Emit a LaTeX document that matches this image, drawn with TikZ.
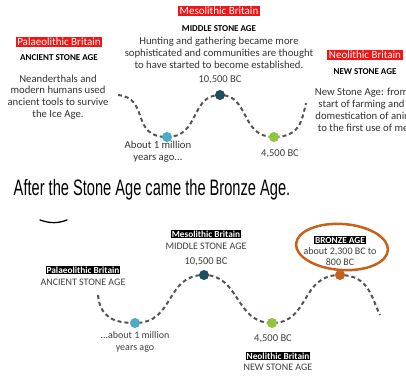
\documentclass[tikz,border=0pt]{standalone}
\usepackage{fontspec}
\setmainfont{Carlito}
\newfontfamily\handfont{Liberation Sans}
\usetikzlibrary{positioning}
\definecolor{tagred}{RGB}{240,22,22}
\definecolor{oldblue}{RGB}{75,172,198}
\definecolor{midteal}{RGB}{30,78,95}
\definecolor{newgreen}{RGB}{141,198,63}
\definecolor{bronze}{RGB}{198,98,30}
\definecolor{trailgrey}{RGB}{85,85,85}
\tikzset{
  redtag/.style={fill=tagred,text=white,inner sep=1.5pt,font=\fontsize{11}{12}\selectfont},
  blacktag/.style={fill=black,text=white,inner sep=1pt,font=\bfseries\fontsize{9.3}{10}\selectfont},
  agetitle/.style={font=\bfseries\fontsize{9}{10}\selectfont},
  blurb/.style={align=center,text=black!80,inner sep=0pt,font=\fontsize{10.7}{11.8}\selectfont},
  greytext/.style={align=center,text=black!75,inner sep=0pt,font=\fontsize{10}{11.5}\selectfont},
  yeartext/.style={align=center,text=black!75,inner sep=0pt,font=\fontsize{10.5}{12}\selectfont},
  dot/.style={circle,inner sep=0pt,minimum size=9pt},
  trail/.style={trailgrey,line width=2pt,dash pattern=on 4pt off 3pt,line cap=butt}
}
\begin{document}
\begin{tikzpicture}[line cap=round,line join=round,x=1pt,y=-1pt]
\useasboundingbox (0,0) rectangle (406,375);
\clip (0,0) rectangle (406,375);
\fill[white] (0,0) rectangle (406,375);

% upper timeline
\coordinate (topstart) at (118,95);
\coordinate (topend) at (306,103);
\node[dot,fill=oldblue] (topold) at (167,137) {};
\node[dot,fill=midteal] (topmid) at (220,95) {};
\node[dot,fill=newgreen] (topnew) at (274,137) {};
\draw[trail] (topstart) .. controls (150,98) and (130,137) .. (topold.center)
  .. controls (200,137) and (190,95) .. (topmid.center)
  .. controls (250,95) and (240,137) .. (topnew.center)
  .. controls (300,137) and (302,120) .. (topend);
\fill[oldblue] (topold) circle (5);
\fill[midteal] (topmid) circle (5);
\fill[newgreen] (topnew) circle (5);

\node[redtag] (mesoT) at (219,11) {Mesolithic Britain};
\node[agetitle] (mesoAgeT) at (219,29) {MIDDLE STONE AGE};
\node[blurb] (mesoTxtT) at (219,53) {Hunting and gathering became more\\sophisticated and communities are thought\\to have started to become established.};
\node[yeartext] (midyearT) at (220,80) {10,500 BC};

\node[redtag] (palaeoT) at (59,42) {Palaeolithic Britain};
\node[agetitle] (palaeoAgeT) at (59,58) {ANCIENT STONE AGE};
\node[blurb] (palaeoTxtT) at (58,97) {Neanderthals and\\modern humans used\\ancient tools to survive\\the Ice Age.};
\node[blurb] (oldyearT) at (158,152) {About 1 million\\years ago...};

\node[redtag] (neoT) at (365,55) {Neolithic Britain};
\node[agetitle] (neoAgeT) at (365,72) {NEW STONE AGE};
\node[blurb] (neoTxtT) at (370,110) {New Stone Age: from the\\start of farming and the\\domestication of animals\\to the first use of metal.};
\node[yeartext] (newyearT) at (280,154) {4,500 BC};

% the sentence
\node[inner sep=0pt] (after) at (152,190) {\handfont\fontsize{15.4}{16}\selectfont\scalebox{0.95}[1.45]{After the Stone Age came the Bronze Age.}};
\draw[line width=1.3pt] (40,220) .. controls (50,223.5) and (58,223.5) .. (67,220);

% lower timeline
\coordinate (lowstart) at (98,295);
\coordinate (lowend) at (380,315);
\node[dot,fill=oldblue] (lowold) at (135,323) {};
\node[dot,fill=midteal] (lowmid) at (204,275) {};
\node[dot,fill=newgreen] (lownew) at (272,323) {};
\node[dot,fill=bronze] (lowbronze) at (340,275) {};
\draw[trail] (lowstart) .. controls (100,318) and (115,323) .. (lowold.center)
  .. controls (175,323) and (165,275) .. (lowmid.center)
  .. controls (240,275) and (235,323) .. (lownew.center)
  .. controls (310,323) and (300,275) .. (lowbronze.center)
  .. controls (370,275) and (372,300) .. (lowend);
\foreach \d/\c in {lowold/oldblue,lowmid/midteal,lownew/newgreen,lowbronze/bronze}
  \fill[\c] (\d) circle (5);

\node[blacktag] (mesoB) at (206,234) {Mesolithic Britain};
\node[greytext] (mesoAgeB) at (206,246) {MIDDLE STONE AGE};
\node[yeartext] (midyearB) at (206,262) {10,500 BC};

\node[blacktag] (palaeoB) at (83,270) {Palaeolithic Britain};
\node[greytext] (palaeoAgeB) at (83,282) {ANCIENT STONE AGE};
\node[greytext] (oldyearB) at (135,342) {...about 1 million\\years ago};

\node[yeartext] (newyearB) at (273,339) {4,500 BC};
\node[blacktag] (neoB) at (278,356) {Neolithic Britain};
\node[greytext] (neoAgeB) at (278,367) {NEW STONE AGE};

\node[blacktag] (bronzeB) at (340,240) {BRONZE AGE};
\node[greytext] (bronzeTxtB) at (340,256.5) {about 2,300 BC to\\800 BC};
\draw[bronze,line width=2.5pt,rotate around={-4:(342,247)}] (342,247) ellipse (46 and 23);
\end{tikzpicture}
\end{document}
